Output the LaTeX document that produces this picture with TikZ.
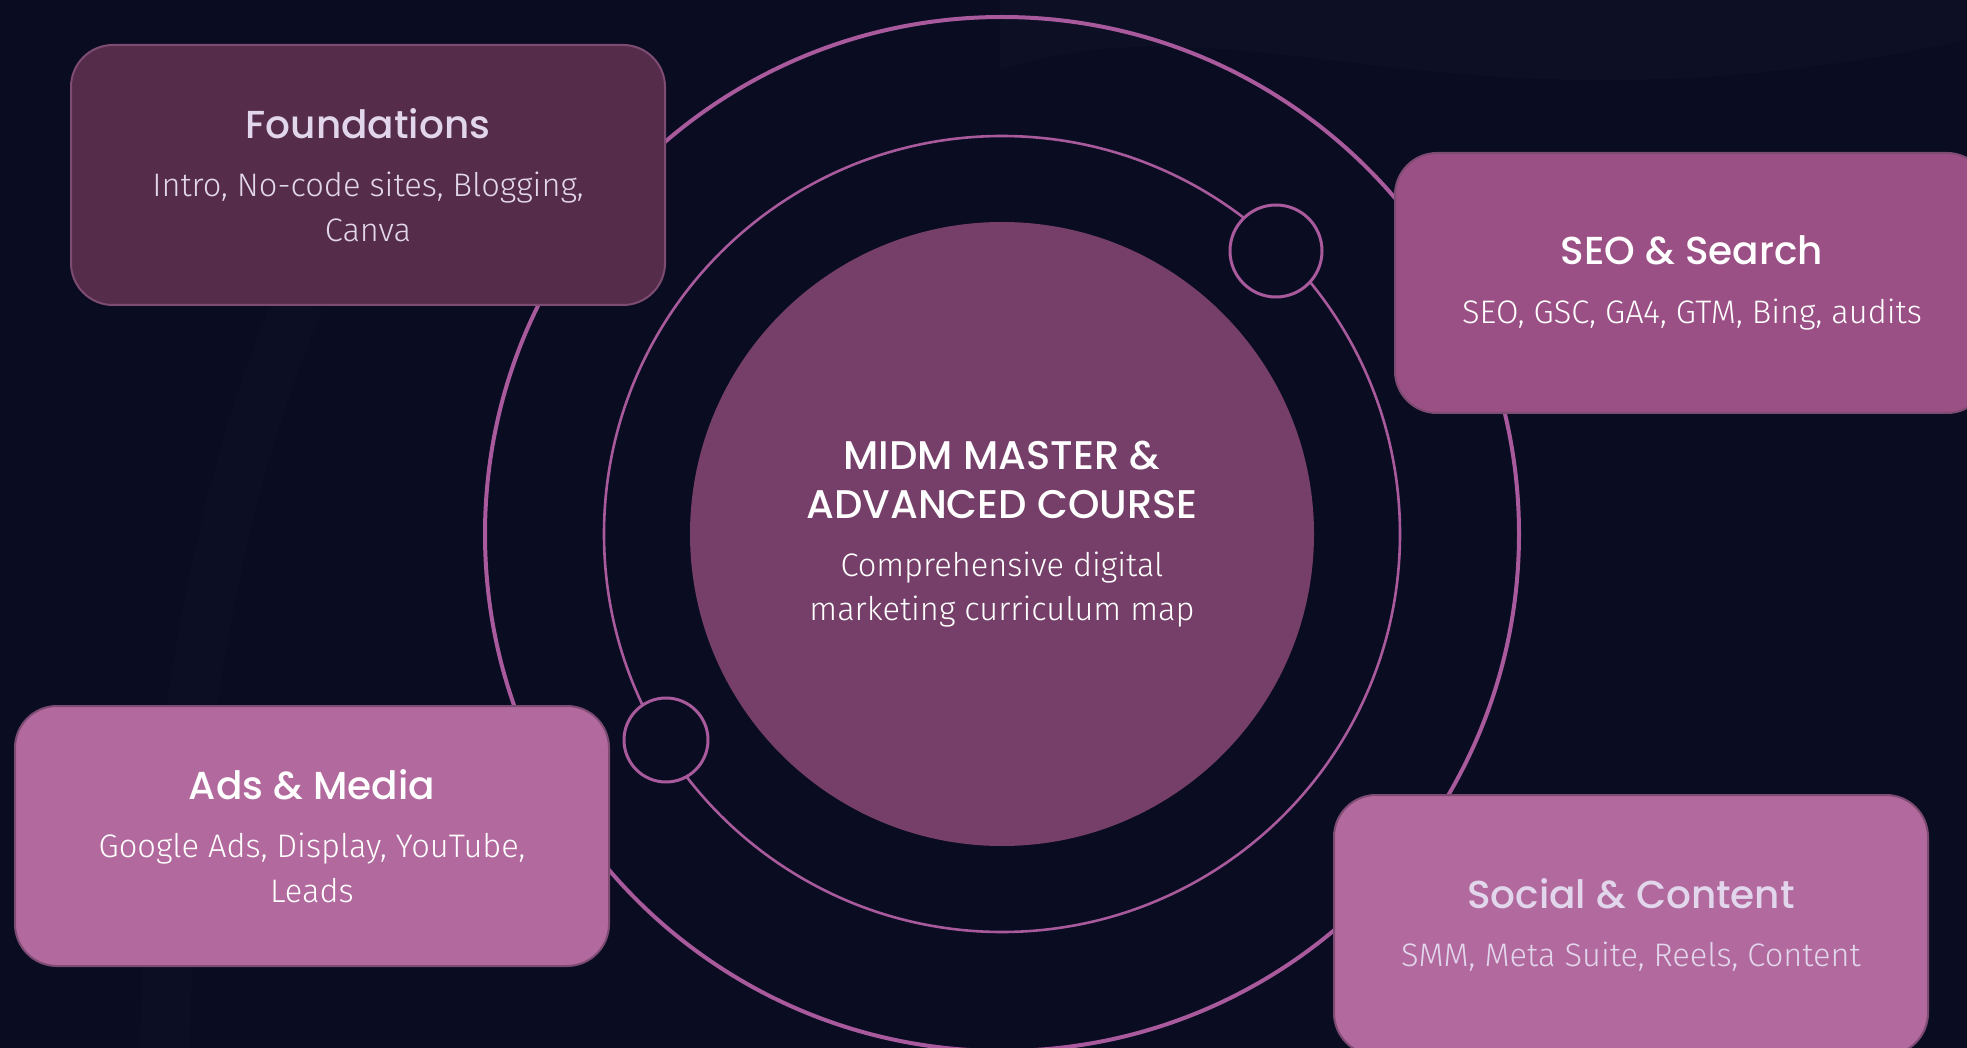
\documentclass[tikz,border=0pt]{standalone}
\usepackage{fontspec}
\usepackage{xcolor}
\usepackage{tikz}
\setmainfont{Fira Sans}
\newfontfamily\titlefont{Poppins}[UprightFont=* Medium]
\newfontfamily\bodyfont{Fira Sans}[UprightFont=* Light]

\definecolor{bgnavy}{HTML}{0A0C21}
\definecolor{ringpink}{HTML}{A85A9C}
\definecolor{corefill}{HTML}{763F69}
\definecolor{plumfill}{HTML}{552C4A}
\definecolor{seofill}{HTML}{9A5085}
\definecolor{rosefill}{HTML}{B2699D}
\definecolor{boxedge}{HTML}{7E4B73}
\definecolor{lavtext}{HTML}{E2D6EC}

\newcommand{\boxtitle}[1]{{\titlefont\fontsize{19.5}{22.5}\selectfont #1}}
\newcommand{\coretitle}[1]{{\titlefont\fontsize{20}{22}\selectfont #1}}

\begin{document}
\begin{tikzpicture}[x=0.5pt,y=-0.5pt,
    modbox/.style={rectangle,rounded corners=21pt,draw=boxedge,line width=1pt,
      minimum width=297pt,minimum height=130pt,align=center,inner sep=0pt,
      font=\bodyfont\fontsize{16.3}{22.5}\selectfont},
    ring/.style={draw=ringpink},
    orbit/.style={circle,draw=ringpink,line width=1.5pt,fill=bgnavy,inner sep=0pt}]
    	\useasboundingbox (0,0) rectangle (1967,1048);
    	\fill[bgnavy] (0,0) rectangle (1967,1048);
    	% faint background swooshes
    	\fill[white,opacity=0.015] (1000,70) .. controls (1250,-10) and (1450,150) .. (1967,40) -- (1967,0) -- (1000,0) -- cycle;
    	\draw[white,opacity=0.012,line width=25pt] (300,300) .. controls (220,480) and (170,750) .. (165,1048);
    	% rings
    	\coordinate (c) at (1002,534);
    	\draw[ring,line width=2pt] (c) circle[radius=517];
    	\draw[ring,line width=1.3pt] (c) circle[radius=398];
    	\node[orbit,minimum size=46pt] (o1) at (1276,251) {};
    	\node[orbit,minimum size=42pt] (o2) at (666,740) {};
    	% centre
    	\node[circle,fill=corefill,minimum size=312pt,inner sep=0pt,align=center,text=white,
    	  font=\bodyfont\fontsize{16.3}{22}\selectfont] (core) at (c)
    	{\coretitle{MIDM MASTER \&}\\[2.5pt]\coretitle{ADVANCED COURSE}\\[7pt]%
    	 Comprehensive digital\\marketing curriculum map};
    	% modules
    	\node[modbox,fill=plumfill,text=lavtext] (found) at (368,175)
    	{\boxtitle{Foundations}\\[6.6pt]Intro, No-code sites, Blogging,\\Canva};
    	\node[modbox,fill=seofill,text=white] (seo) at (1692,283)
    	{\boxtitle{SEO \& Search}\\[6.6pt]SEO, GSC, GA4, GTM, Bing, audits};
    	\node[modbox,fill=rosefill,text=white] (ads) at (312,836)
    	{\boxtitle{Ads \& Media}\\[6.6pt]Google Ads, Display, YouTube,\\Leads};
    	\node[modbox,fill=rosefill,text=lavtext] (social) at (1631,925)
    	{\boxtitle{Social \& Content}\\[6.6pt]SMM, Meta Suite, Reels, Content};
\end{tikzpicture}
\end{document}
